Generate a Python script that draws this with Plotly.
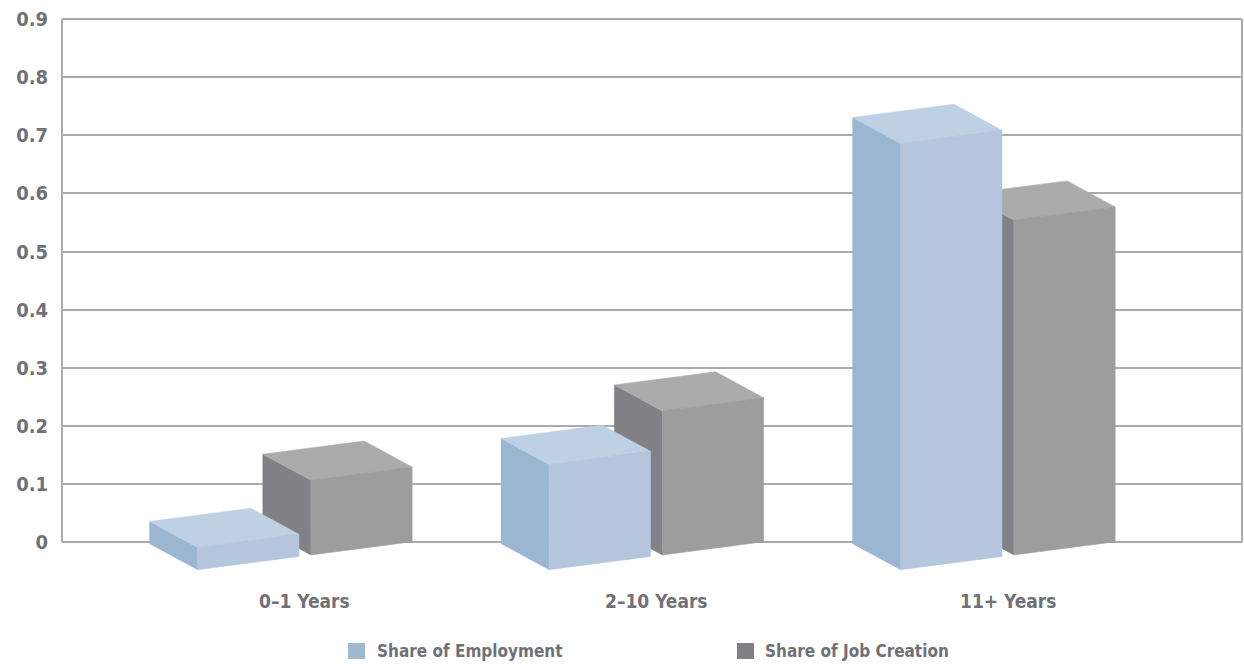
import plotly.graph_objects as go

# ---------------- data ----------------
categories = ["0–1 Years", "2–10 Years", "11+ Years"]
employment = [0.04, 0.19, 0.77]
job_creation = [0.135, 0.26, 0.605]
series_names = ["Share of Employment", "Share of Job Creation"]
y_tick_vals = [0, 0.1, 0.2, 0.3, 0.4, 0.5, 0.6, 0.7, 0.8, 0.9]
y_tick_text = ["0", "0.1", "0.2", "0.3", "0.4", "0.5", "0.6", "0.7", "0.8", "0.9"]

# ---------------- style / 3D geometry ----------------
W = 0.288          # bar front width (x units, 1 unit = category spacing)
GAP = 0.034        # gap between the two bars of a group
DX = -0.1366       # depth offset (x)
DY = 0.0447        # depth offset (y)
SKEW = 0.0786      # perspective slope of horizontal edges
FLOOR0 = -0.047    # front floor level at the left of each group
PERSP = 0.952      # front-face perspective scale
GROUP_LEFT = -0.305

COLORS = {
    "emp": {"front": "#b3c6dd", "side": "#9bb6d0", "top": "#bdd0e4", "legend": "#9fb9d3"},
    "job": {"front": "#9d9d9d", "side": "#818186", "top": "#ababab", "legend": "#808085"},
}
TEXT_COLOR = "#707177"
FONT = "DejaVu Sans Condensed, Liberation Sans Narrow, sans-serif"
GRID_COLOR = "#acacac"

fig = go.Figure()


def add_bar(xl, v, gl, pal, name, cat):
    def floor(x):
        return FLOOR0 + SKEW * (x - gl)
    xr = xl + W
    ybl, ybr = floor(xl), floor(xr)
    h = v * PERSP
    side = [(xl, ybl), (xl, ybl + h), (xl + DX, ybl + h + DY), (xl + DX, ybl + DY)]
    top = [(xl, ybl + h), (xr, ybr + h), (xr + DX, ybr + h + DY), (xl + DX, ybl + h + DY)]
    front = [(xl, ybl), (xr, ybr), (xr, ybr + h), (xl, ybl + h)]
    for poly, key in ((side, "side"), (top, "top"), (front, "front")):
        xs = [p[0] for p in poly] + [poly[0][0]]
        ys = [p[1] for p in poly] + [poly[0][1]]
        fig.add_trace(go.Scatter(
            x=xs, y=ys, mode="lines", fill="toself",
            fillcolor=pal[key], line=dict(color=pal[key], width=0.6),
            showlegend=False,
            hoverinfo="text" if key == "front" else "skip",
            text=f"{name} – {cat}: {v}" if key == "front" else None,
        ))


for i, cat in enumerate(categories):
    gl = i + GROUP_LEFT
    # job creation first (behind), then employment
    add_bar(gl + W + GAP, job_creation[i], gl, COLORS["job"], series_names[1], cat)
    add_bar(gl, employment[i], gl, COLORS["emp"], series_names[0], cat)

# ---------------- layout ----------------
X_RANGE = [-0.691, 2.666]
Y_RANGE = [-0.07, 0.9052]

shapes = [
    dict(type="line", xref="paper", yref="y", x0=0, x1=0, y0=0, y1=0.9,
         line=dict(color=GRID_COLOR, width=2), layer="below"),
    dict(type="line", xref="paper", yref="y", x0=1, x1=1, y0=0, y1=0.9,
         line=dict(color=GRID_COLOR, width=2), layer="below"),
]

annotations = []
for i, cat in enumerate(categories):
    annotations.append(dict(
        x=i, xref="x", y=-0.032, yref="paper", text=cat, showarrow=False,
        xanchor="center", yanchor="middle",
        font=dict(family=FONT, size=19, color=TEXT_COLOR, weight=600)))

# legend (squares + text) at bottom
PLOT_L, PLOT_W, PLOT_T, PLOT_H = 62, 1180, 16, 567


def px_x(px):
    return (px - PLOT_L) / PLOT_W


def px_y(py):
    return (PLOT_T + PLOT_H - py) / PLOT_H


legend_items = [(348, 375, series_names[0], COLORS["emp"]["legend"]),
                (737, 763, series_names[1], COLORS["job"]["legend"])]
for sq_x, tx, label, col in legend_items:
    shapes.append(dict(type="rect", xref="paper", yref="paper",
                       x0=px_x(sq_x), x1=px_x(sq_x + 17),
                       y0=px_y(659), y1=px_y(643),
                       fillcolor=col, line=dict(width=0)))
    annotations.append(dict(x=px_x(tx), xref="paper", y=px_y(651), yref="paper",
                            text=label, showarrow=False, xanchor="left", yanchor="middle",
                            font=dict(family=FONT, size=17, color=TEXT_COLOR, weight=600)))

fig.update_layout(
    width=1244, height=669,
    margin=dict(l=PLOT_L, r=1244 - PLOT_L - PLOT_W, t=PLOT_T, b=669 - PLOT_T - PLOT_H),
    paper_bgcolor="white", plot_bgcolor="white",
    showlegend=False,
    xaxis=dict(range=X_RANGE, showgrid=False, zeroline=False, showticklabels=False,
               showline=False, fixedrange=True),
    yaxis=dict(range=Y_RANGE, tickvals=y_tick_vals, ticktext=y_tick_text,
               showgrid=True, gridcolor=GRID_COLOR, gridwidth=2, zeroline=False,
               showline=False, ticks="", ticklabelstandoff=13,
               tickfont=dict(family=FONT, size=20, color=TEXT_COLOR, weight=600),
               fixedrange=True),
    shapes=shapes,
    annotations=annotations,
)

fig.write_html("out.html", config={"displayModeBar": False},
               post_script="document.body.style.margin='0';document.body.style.overflow='hidden';")
